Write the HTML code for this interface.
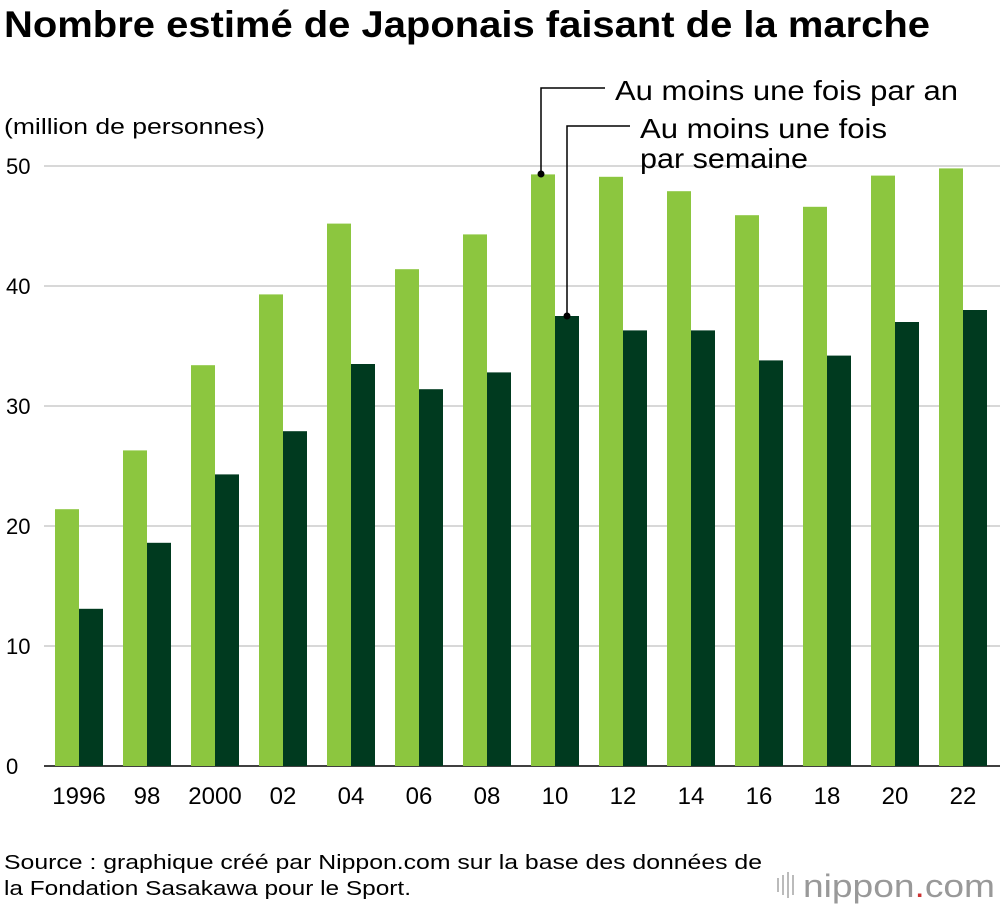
<!DOCTYPE html>
<html><head><meta charset="utf-8">
<style>
body{margin:0;background:#fff;font-family:"Liberation Sans",sans-serif;}
svg text{font-family:"Liberation Sans",sans-serif;}
</style></head>
<body>
<svg id="chart" width="1000" height="910" xmlns="http://www.w3.org/2000/svg">
<text x="4" y="37" font-size="37" font-weight="bold" fill="#000" textLength="926" lengthAdjust="spacingAndGlyphs">Nombre estimé de Japonais faisant de la marche</text>
<text x="4" y="134" font-size="22" fill="#000" textLength="261" lengthAdjust="spacingAndGlyphs">(million de personnes)</text>
<g id="grid"></g>
<g id="bars"></g>
<g id="xlabels"></g>
<g>
<polyline points="541,174 541,88 605,88" fill="none" stroke="#000" stroke-width="1.5"/>
<circle cx="541" cy="174" r="3.5" fill="#000"/>
<text x="615" y="100" font-size="28" fill="#000" textLength="343" lengthAdjust="spacingAndGlyphs">Au moins une fois par an</text>
</g>
<g>
<polyline points="567,316 567,126 630,126" fill="none" stroke="#000" stroke-width="1.5"/>
<circle cx="567" cy="316" r="3.5" fill="#000"/>
<text x="640" y="138" font-size="28" fill="#000" textLength="247" lengthAdjust="spacingAndGlyphs">Au moins une fois</text>
<text x="640" y="168" font-size="28" fill="#000" textLength="168" lengthAdjust="spacingAndGlyphs">par semaine</text>
</g>
<text x="4" y="869" font-size="20" fill="#000" textLength="758" lengthAdjust="spacingAndGlyphs">Source : graphique créé par Nippon.com sur la base des données de</text>
<text x="4" y="895" font-size="20" fill="#000" textLength="407" lengthAdjust="spacingAndGlyphs">la Fondation Sasakawa pour le Sport.</text>
<g>
<rect x="777" y="878" width="2" height="14" fill="#bbb"/><rect x="782" y="875" width="2" height="20" fill="#bbb"/><rect x="787" y="872" width="2" height="26" fill="#bbb"/><rect x="792" y="875" width="2" height="20" fill="#bbb"/>
<text x="803" y="897" font-size="32" fill="#999" textLength="192" lengthAdjust="spacingAndGlyphs">nippon<tspan fill="#c33">.</tspan>com</text>
</g>
</svg>
<script>
const categories=["1996","98","2000","02","04","06","08","10","12","14","16","18","20","22"];
const yearlyValues=[21.4,26.3,33.4,39.3,45.2,41.4,44.3,49.3,49.1,47.9,45.9,46.6,49.2,49.8];
const weeklyValues=[13.1,18.6,24.3,27.9,33.5,31.4,32.8,37.5,36.3,36.3,33.8,34.2,37.0,38.0];
const yTicks=[0,10,20,30,40,50];
const NS="http://www.w3.org/2000/svg";
const y=v=>766-v*12;
const x=i=>55+i*68;
const bw=24;
const grid=document.getElementById('grid');
yTicks.forEach(t=>{
 const l=document.createElementNS(NS,'line');
 
 
 l.setAttribute('x1',44);l.setAttribute('x2',1000);l.setAttribute('y1',y(t));l.setAttribute('y2',y(t));
 l.setAttribute('stroke',t===0?'#000':'#ccc');l.setAttribute('stroke-width',1.5);
 grid.appendChild(l);
 const tx=document.createElementNS(NS,'text');
 
 
 tx.setAttribute('x',6);tx.setAttribute('y',y(t)+8);tx.setAttribute('font-size','22');
 tx.textContent=t;grid.appendChild(tx);
});
const bars=document.getElementById('bars');
const xl=document.getElementById('xlabels');
categories.forEach((c,i)=>{
 const a=document.createElementNS(NS,'rect');
 
 
 a.setAttribute('x',x(i));a.setAttribute('width',bw);a.setAttribute('y',y(yearlyValues[i]));a.setAttribute('height',y(0)-y(yearlyValues[i]));a.setAttribute('fill','#8cc63f');
 bars.appendChild(a);
 const b=document.createElementNS(NS,'rect');
 
 
 b.setAttribute('x',x(i)+bw);b.setAttribute('width',bw);b.setAttribute('y',y(weeklyValues[i]));b.setAttribute('height',y(0)-y(weeklyValues[i]));b.setAttribute('fill','#003a1f');
 bars.appendChild(b);
 const t=document.createElementNS(NS,'text');
 
 
 t.setAttribute('x',x(i)+bw);t.setAttribute('y',804);t.setAttribute('font-size','24');t.setAttribute('text-anchor','middle');
 t.textContent=c;xl.appendChild(t);
});
</script>
</body></html>
